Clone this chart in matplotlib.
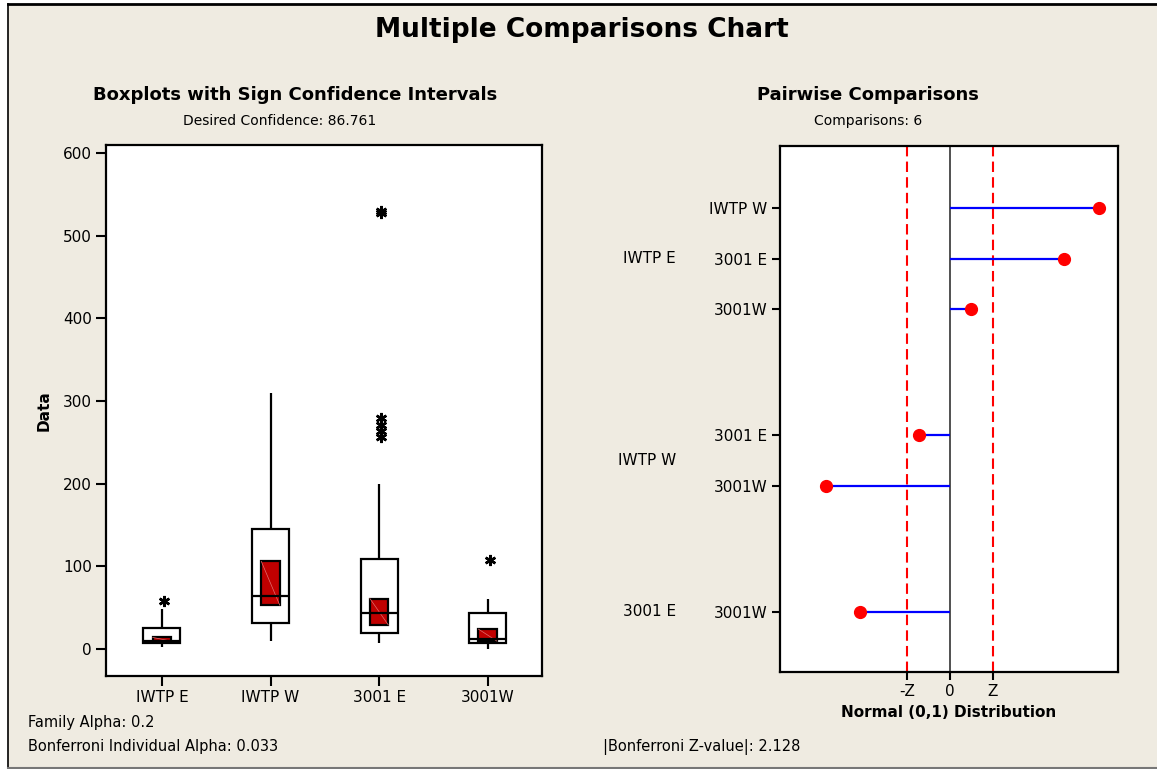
import matplotlib
matplotlib.use("Agg")
import matplotlib.pyplot as plt
from matplotlib.patches import Rectangle
import numpy as np

plt.rcParams['font.family'] = ['DejaVu Sans']

# ---- Boxplot summaries (left panel) ----
groups = ["IWTP E", "IWTP W", "3001 E", "3001W"]
q1 = [7, 31, 19, 7]
q3 = [25, 145, 109, 43]
medians = [9.5, 64, 44, 12]
whisker_low = [2, 9.5, 7, 0]
whisker_high = [48, 310, 199, 61]
ci_low = [9.5, 53, 29, 9.5]
ci_high = [14, 106, 61, 24]
outliers = [[58], [], [530, 528, 279, 271, 264, 256], [108]]
y_ticks = [0, 100, 200, 300, 400, 500, 600]

# ---- Pairwise comparisons (right panel) ----
pair_groups = ["IWTP E", "IWTP W", "3001 E"]
pair_labels = ["IWTP W", "3001 E", "3001W", "3001 E", "3001W", "3001W"]
pair_group_index = [0, 0, 0, 1, 1, 2]
z_values = [7.37, 5.67, 1.03, -1.52, -6.16, -4.48]
z_crit = 2.128

BG = "#EFEBE1"
W, H = 1157, 769
fig = plt.figure(figsize=(W / 100, H / 100), dpi=100, facecolor="white")

# beige panel with border
fig.patches.append(Rectangle((8 / W, 0), 1 - 8 / W, (H - 4) / H, transform=fig.transFigure,
                             facecolor=BG, edgecolor="none", zorder=-10))
fig.add_artist(plt.Line2D([8 / W, 1], [(H - 4) / H] * 2, color="black", lw=2, transform=fig.transFigure))
fig.add_artist(plt.Line2D([8 / W, 8 / W], [1 / H, (H - 4) / H], color="black", lw=1.2, transform=fig.transFigure))
fig.add_artist(plt.Line2D([8 / W, 1], [1 / H, 1 / H], color="#777777", lw=1.5, transform=fig.transFigure))


def px_axes(left, top, right, bottom):
    return [left / W, (H - bottom) / H, (right - left) / W, (bottom - top) / H]


def fy(y):
    return (H - y) / H


def fx(x):
    return x / W


# ---- Titles ----
fig.text(fx(582), fy(30), "Multiple Comparisons Chart", ha="center", va="center",
         fontsize=19, fontweight="bold")
fig.text(fx(295), fy(95), "Boxplots with Sign Confidence Intervals", ha="center", va="center",
         fontsize=13, fontweight="bold")
fig.text(fx(280), fy(121), "Desired Confidence: 86.761", ha="center", va="center", fontsize=10)
fig.text(fx(868), fy(95), "Pairwise Comparisons", ha="center", va="center",
         fontsize=13, fontweight="bold")
fig.text(fx(868), fy(121), "Comparisons: 6", ha="center", va="center", fontsize=10)

fig.text(fx(28), fy(723), "Family Alpha: 0.2", ha="left", va="center", fontsize=10.5)
fig.text(fx(28), fy(747), "Bonferroni Individual Alpha: 0.033", ha="left", va="center", fontsize=10.5)
fig.text(fx(603), fy(747), "|Bonferroni Z-value|: 2.128", ha="left", va="center", fontsize=10.5)

# ---- Left panel: boxplots with CI boxes ----
ax = fig.add_axes(px_axes(106, 145, 542, 676))
ax.set_facecolor("white")
pos = np.arange(1, len(groups) + 1)
box_w = 0.34
ci_w = 0.17

ax.bar(pos, np.array(q3) - np.array(q1), bottom=q1, width=box_w, facecolor="white",
       edgecolor="black", linewidth=1.6, zorder=2)
ax.vlines(pos, q3, whisker_high, color="black", lw=1.6, zorder=2)
ax.vlines(pos, whisker_low, q1, color="black", lw=1.6, zorder=2)
ax.bar(pos, np.array(ci_high) - np.array(ci_low), bottom=ci_low, width=ci_w,
       facecolor="#C00000", edgecolor="black", linewidth=1.6, zorder=3)
for p, lo, hi in zip(pos, ci_low, ci_high):
    ax.plot([p - ci_w / 2, p + ci_w / 2], [hi, lo], color="#E07070", lw=0.5, zorder=4)
ax.hlines(medians, pos - box_w / 2, pos + box_w / 2, color="black", lw=1.6, zorder=5)
for p, outs in zip(pos, outliers):
    if outs:
        ax.plot([p + 0.02] * len(outs), outs, linestyle="none", marker=(6, 2, 0),
                markersize=8, markeredgewidth=1.8, color="black", zorder=6)

ax.set_xlim(0.485, 4.5)
ax.set_ylim(-32.7, 609.7)
ax.set_xticks(pos)
ax.set_xticklabels(groups, fontsize=11)
ax.set_yticks(y_ticks)
ax.set_yticklabels([str(v) for v in y_ticks], fontsize=11)
ax.tick_params(axis="both", length=7, width=1.5, color="black", pad=3)
ax.set_ylabel("Data", fontsize=11, fontweight="bold", labelpad=8)
for s in ax.spines.values():
    s.set_linewidth(1.6)

# ---- Right panel: pairwise comparisons ----
ax2 = fig.add_axes(px_axes(780, 146, 1118, 672))
ax2.set_facecolor("white")
row_pos = [0, 1, 2, 4.5, 5.5, 8]
ax2.axvline(0, color="#333333", lw=1.2, zorder=1)
ax2.axvline(-z_crit, color="red", lw=1.5, ls=(0, (5, 2.5)), zorder=1)
ax2.axvline(z_crit, color="red", lw=1.5, ls=(0, (5, 2.5)), zorder=1)
ax2.hlines(row_pos, 0, z_values, color="blue", lw=1.6, zorder=2)
ax2.plot(z_values, row_pos, "o", color="red", markersize=8.5, zorder=3)

ax2.set_xlim(-8.42, 8.32)
ax2.set_ylim(9.19, -1.23)
ax2.set_xticks([-z_crit, 0, z_crit])
ax2.set_xticklabels(["-Z", "0", "Z"], fontsize=11)
ax2.set_yticks(row_pos)
ax2.set_yticklabels(pair_labels, fontsize=11)
ax2.tick_params(axis="both", length=6, width=1.5, color="black", pad=3)
ax2.set_xlabel("Normal (0,1) Distribution", fontsize=11, fontweight="bold", labelpad=4)
for s in ax2.spines.values():
    s.set_linewidth(1.6)

# group labels beside each block of comparisons
for gi, name in enumerate(pair_groups):
    rows = [r for r, g in zip(row_pos, pair_group_index) if g == gi]
    ax2.text(-0.308, np.mean(rows), name, transform=ax2.get_yaxis_transform(),
             ha="right", va="center", fontsize=11)

fig.savefig("out.png", dpi=100, facecolor=fig.get_facecolor())
